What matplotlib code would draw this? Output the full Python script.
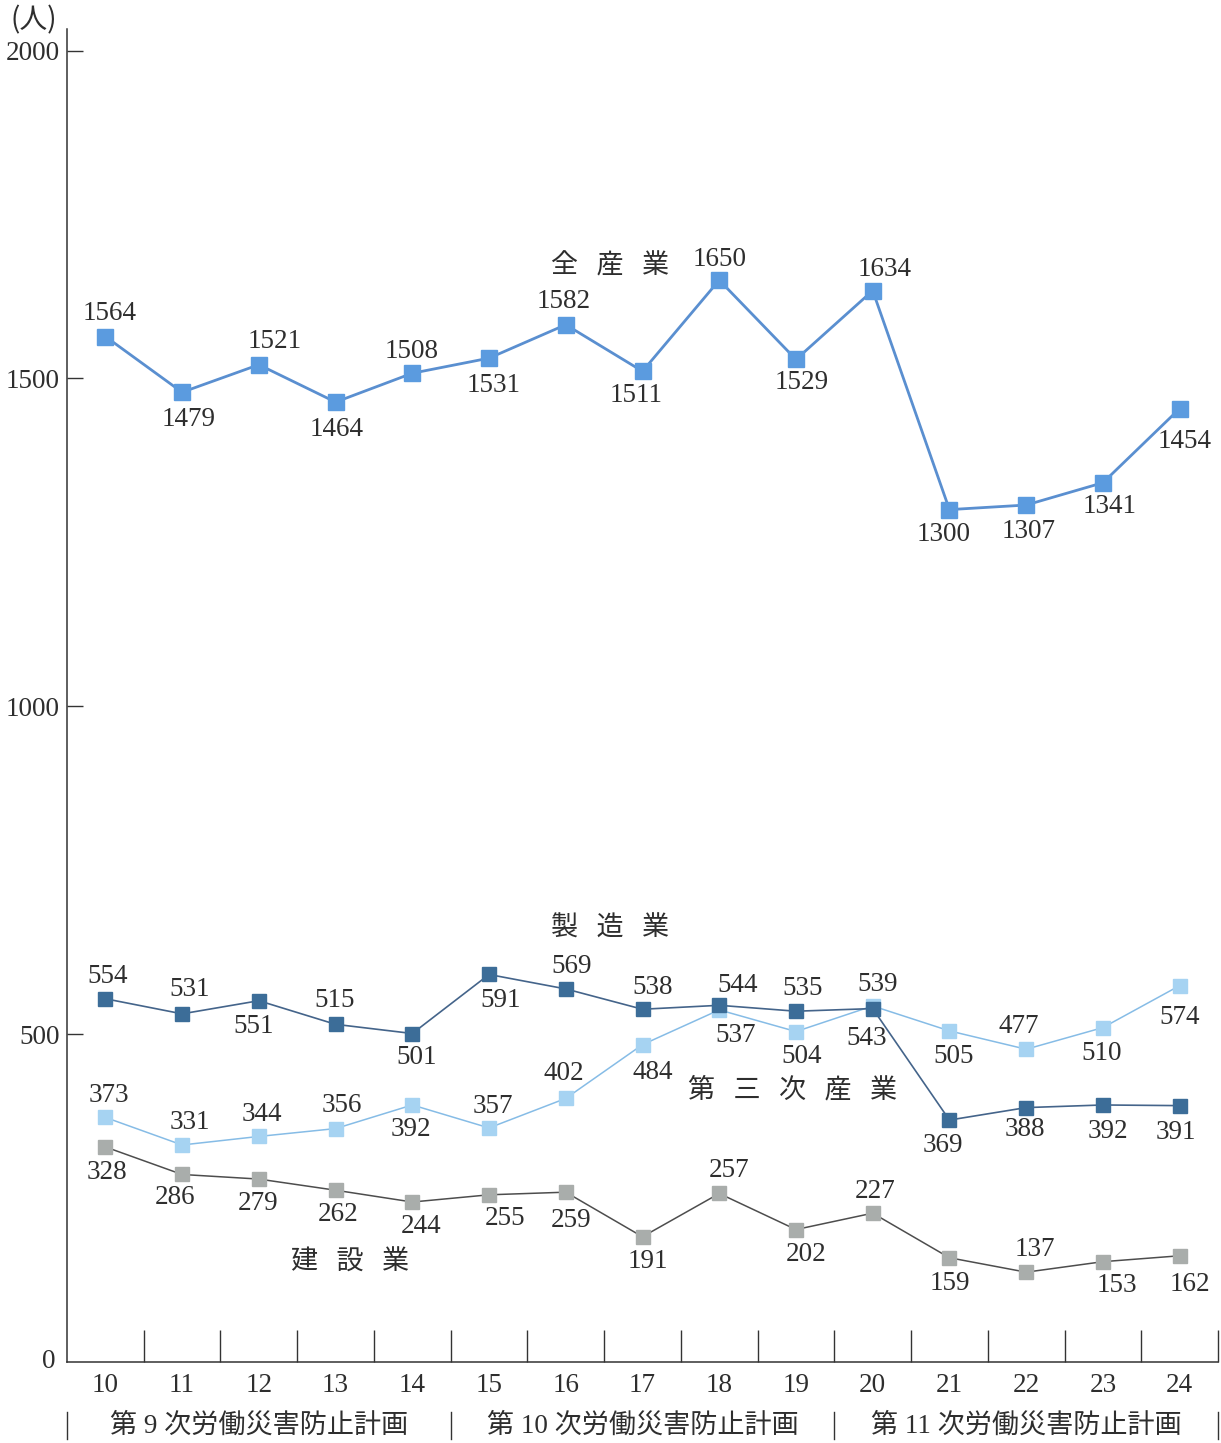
import matplotlib
matplotlib.use("Agg")
import matplotlib.pyplot as plt
import matplotlib.transforms as mtransforms

plt.rcParams['font.family'] = ['Liberation Serif', 'Noto Sans CJK JP', 'DejaVu Sans']

years = list(range(10, 25))
all_industry = [1564, 1479, 1521, 1464, 1508, 1531, 1582, 1511, 1650, 1529, 1634, 1300, 1307, 1341, 1454]
manufacturing = [554, 531, 551, 515, 501, 591, 569, 538, 544, 535, 539, 369, 388, 392, 391]
tertiary = [373, 331, 344, 356, 392, 357, 402, 484, 537, 504, 543, 505, 477, 510, 574]
construction = [328, 286, 279, 262, 244, 255, 259, 191, 257, 202, 227, 159, 137, 153, 162]
plan_names = ['第 9 次労働災害防止計画', '第 10 次労働災害防止計画', '第 11 次労働災害防止計画']
plan_spans = [(10, 14), (15, 19), (20, 24)]

# label offsets in pixels (dx, dy), dy positive = below the marker
off_all = [(4, -23), (7, 27), (16, -23), (1, 27), (-1, -22), (5, 27), (-2, -23), (-6, 24),
           (0, -21), (6, 23), (12, -21), (-6, 25), (2, 26), (7, 24), (5, 33)]
off_mfg = [(2, -22), (8, -24), (-5, 26), (-1, -24), (4, 24), (12, 26), (6, -22), (10, -22),
           (18, -20), (7, -23), (5, -24), (-7, 25), (-1, 22), (5, 27), (-4, 27)]
off_ter = [(4, -22), (8, -22), (3, -22), (6, -23), (-1, 25), (4, -21), (-2, -25), (10, 28),
           (16, 26), (6, 25), (-6, 33), (4, 26), (-7, -23), (-1, 26), (0, 32)]
off_con = [(2, 26), (-7, 23), (-1, 24), (3, 24), (9, 24), (16, 24), (5, 28), (5, 25),
           (10, -23), (10, 25), (2, -22), (0, 26), (9, -23), (14, 24), (10, 29)]

text_color = '#2e2e2e'
fs = 19.5

fig = plt.figure(figsize=(12.21, 14.43), dpi=100)
ax = fig.add_axes([67 / 1221, 81 / 1443, (1218 - 67) / 1221, (1362 - 29) / 1443])

series = [
    (construction, off_con, '#4d4d4d', '#a9adab', 1.1, 10, 2),
    (tertiary, off_ter, '#86bce6', '#a6d3f2', 1.1, 10, 3),
    (manufacturing, off_mfg, '#44648a', '#3c6d98', 1.2, 10, 4),
    (all_industry, off_all, '#5a8fd0', '#5b9bdf', 2.0, 11, 5),
]
for vals, offs, lc, mc, lw, ms, z in series:
    ax.plot(years, vals, color=lc, lw=lw, marker='s', ms=ms, mfc=mc, mec=mc, zorder=z)
    for x, v, (dx, dy) in zip(years, vals, offs):
        ax.annotate(str(v), (x, v), textcoords='offset pixels', xytext=(dx, -dy),
                    ha='center', va='center', fontsize=fs, color=text_color, zorder=6)

# series names
name_kw = dict(ha='center', va='center', fontsize=19.5, color=text_color,
               family=['Noto Sans CJK JP'])
ax.text(16.58, 1672, '全   産   業', **name_kw)
ax.text(16.58, 662, '製   造   業', **name_kw)
ax.text(18.96, 415, '第   三   次   産   業', **name_kw)
ax.text(13.19, 152, '建   設   業', **name_kw)

ax.set_xlim(9.5, 24.5)
ax.set_ylim(0, 2033)

for s in ['top', 'right']:
    ax.spines[s].set_visible(False)
for s in ['left', 'bottom']:
    ax.spines[s].set_color('#333333')
    ax.spines[s].set_linewidth(1.1)

ax.set_yticks([500, 1000, 1500, 2000])
ax.tick_params(axis='y', direction='in', length=11.5, width=1.0, color='#333333',
               labelsize=fs, labelcolor=text_color, pad=5)
ax.set_xticks(years)
ax.set_xticklabels([str(y) for y in years])
ax.tick_params(axis='x', which='major', length=0, labelsize=fs, labelcolor=text_color, pad=8)
ax.set_xticks([y + 0.5 for y in years], minor=True)
ax.tick_params(axis='x', which='minor', direction='in', length=23, width=1.0, color='#333333')

# zero label sits beside the axis corner
ax.text(-0.01, 0, '0', transform=mtransforms.blended_transform_factory(ax.transAxes, ax.transData),
        ha='right', va='center', fontsize=fs, color=text_color)

fig.text(34 / 1221, 1 - 20 / 1443, '(人)', ha='center', va='center', fontsize=20,
         color=text_color, family=['Noto Sans CJK JP'])

# plan periods below the year labels
trans = mtransforms.blended_transform_factory(ax.transData, ax.transAxes)
for name, (a, b) in zip(plan_names, plan_spans):
    ax.text((a + b) / 2, -0.048, name, transform=trans, ha='center', va='center',
            fontsize=19.5, color=text_color, clip_on=False)
for xb in [9.5, 14.5, 19.5, 24.5]:
    ax.plot([xb, xb], [-0.0375, -0.058], transform=trans, color='#333333', lw=1.0,
            clip_on=False)

fig.savefig('out.png', dpi=100, facecolor='white')
